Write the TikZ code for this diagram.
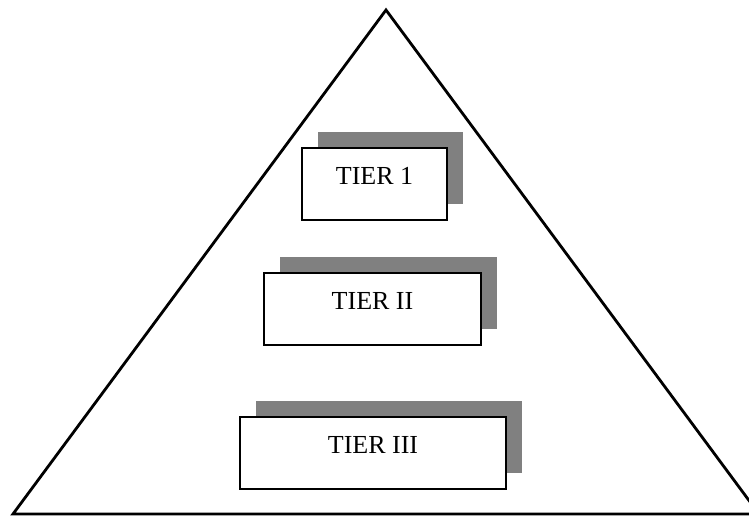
\documentclass[tikz,border=0pt]{standalone}
\usepackage{fontspec}
\setmainfont{Liberation Serif}
\usepackage{tikz}
\usetikzlibrary{shadows}

\begin{document}
\begin{tikzpicture}[x=1pt,y=-1pt,
  tierbox/.style={draw=black, line width=1.8pt, fill=white, text height=0pt, text depth=0pt,
    minimum height=72pt, inner sep=0pt, font=\fontsize{26}{30}\selectfont,
    general shadow={fill=black!50, shadow xshift=16pt, shadow yshift=16pt}}]
\clip (0,0) rectangle (749,516);
\draw[black,line width=2.8pt,line join=miter] (13,514) -- (386,10) -- (759,514) -- cycle;
\node[tierbox, minimum width=145pt] (T1) at (374.5,184) {TIER 1};
\node[tierbox, minimum width=217pt] (T2) at (372.5,309) {TIER II};
\node[tierbox, minimum width=266pt] (T3) at (373,453) {TIER III};
\end{tikzpicture}
\end{document}
